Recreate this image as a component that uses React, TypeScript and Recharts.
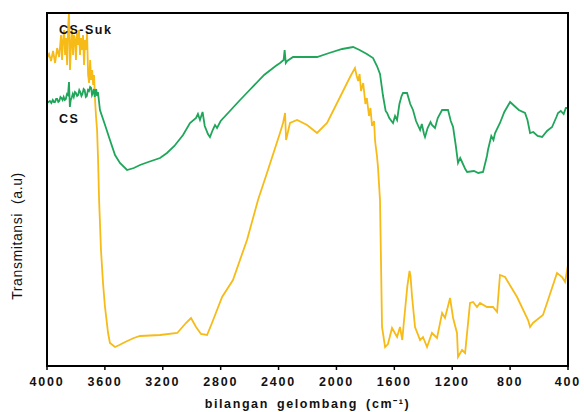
import { LineChart, Line, XAxis, YAxis } from 'recharts';

// FTIR spectra, wavenumbers in cm-1, transmittance in arbitrary units
const csWavenumber = [
  4000, 3990, 3980, 3970, 3960, 3952, 3945, 3937, 3930, 3922, 3915, 3907, 3900, 3892, 3885, 3877,
  3870, 3862, 3855, 3848, 3842, 3836, 3830, 3822, 3815, 3807, 3800, 3792, 3785, 3777, 3770, 3762,
  3755, 3747, 3740, 3732, 3725, 3717, 3710, 3702, 3695, 3689, 3683, 3676, 3670, 3665, 3660, 3654,
  3648, 3634, 3599, 3565, 3530, 3496, 3447, 3400, 3357, 3300, 3219, 3171, 3120, 3060, 3012, 2970,
  2957, 2943, 2925, 2910, 2888, 2874, 2855, 2839, 2825, 2800, 2666, 2600, 2500, 2420, 2390, 2365,
  2358, 2350, 2340, 2300, 2200, 2134, 2050, 1960, 1885, 1840, 1790, 1747, 1720, 1699, 1678, 1660,
  1650, 1635, 1620, 1609, 1595, 1581, 1565, 1550, 1540, 1512, 1490, 1471, 1450, 1422, 1410, 1395,
  1388, 1370, 1350, 1340, 1319, 1300, 1270, 1229, 1210, 1194, 1175, 1160, 1145, 1132, 1110, 1097,
  1050, 1020, 987, 960, 953, 930, 915, 904, 870, 840, 800, 770, 740, 697, 680, 662,
  640, 610, 579, 545, 510, 480, 469, 450, 430, 415, 400,
];
const csValue = [
  263, 264, 265, 263, 266, 264, 264, 267, 267, 264, 265, 269, 268, 266, 269, 266,
  267, 272, 271, 284, 259, 266, 268, 272, 269, 274, 273, 270, 271, 276, 274, 270,
  272, 277, 276, 269, 270, 276, 275, 279, 278, 271, 273, 277, 269, 275, 277, 270,
  274, 256, 241, 226, 211, 203, 196, 198, 201, 204, 208, 213, 220, 231, 243, 248,
  252, 246, 254, 240, 232, 229, 236, 241, 238, 245, 266, 276, 291, 300, 303, 306,
  316, 303, 305, 309, 309, 309, 313, 317, 319, 316, 312, 308, 300, 292, 270, 255,
  253, 248, 245, 243, 250, 246, 262, 270, 273, 273, 262, 256, 245, 236, 242, 232,
  229, 238, 244, 241, 238, 248, 256, 256, 245, 239, 220, 203, 208, 204, 197, 194,
  195, 193, 194, 210, 216, 230, 226, 233, 243, 254, 264, 260, 256, 253, 246, 233,
  234, 230, 229, 235, 239, 249, 253, 255, 252, 258, 258,
];

const sukWavenumber = [
  4000, 3986, 3972, 3958, 3944, 3930, 3916, 3903, 3896, 3889, 3882, 3875, 3868, 3861, 3855, 3848,
  3841, 3834, 3827, 3820, 3813, 3806, 3800, 3793, 3786, 3779, 3772, 3765, 3758, 3751, 3744, 3737,
  3730, 3723, 3716, 3709, 3702, 3695, 3688, 3681, 3675, 3668, 3661, 3654, 3647, 3640, 3627, 3613,
  3600, 3578, 3565, 3530, 3500, 3460, 3400, 3357, 3219, 3100, 3040, 3005, 2970, 2936, 2894, 2860,
  2790, 2715, 2618, 2542, 2480, 2390, 2369, 2355, 2348, 2321, 2272, 2203, 2134, 2065, 1975, 1906,
  1872, 1860, 1850, 1840, 1830, 1815, 1800, 1790, 1775, 1765, 1754, 1740, 1733, 1720, 1713, 1699,
  1685, 1664, 1644, 1616, 1581, 1561, 1545, 1536, 1510, 1495, 1488, 1478, 1457, 1422, 1402, 1374,
  1340, 1305, 1270, 1250, 1215, 1194, 1167, 1160, 1132, 1111, 1077, 1056, 1029, 1008, 960, 918,
  890, 870, 835, 752, 676, 662, 642, 573, 538, 476, 441, 420, 400,
];
const sukValue = [
  308, 312, 305, 315, 303, 318, 309, 331, 306, 326, 336, 311, 328, 301, 338, 353,
  296, 321, 336, 311, 331, 326, 306, 333, 321, 336, 311, 328, 316, 331, 301, 326,
  316, 333, 291, 283, 306, 286, 296, 281, 291, 266, 249, 236, 206, 166, 116, 83,
  60, 33, 23, 19, 21, 24, 28, 30, 31, 33, 43, 48, 39, 32, 31, 43,
  69, 86, 126, 166, 193, 233, 243, 253, 226, 243, 246, 241, 233, 243, 269, 289,
  298, 290, 285, 292, 275, 283, 262, 268, 250, 258, 240, 245, 225, 210, 199, 166,
  39, 19, 22, 38, 29, 39, 26, 41, 80, 95, 90, 70, 39, 26, 29, 19,
  33, 28, 53, 48, 68, 48, 33, 9, 16, 13, 63, 64, 59, 63, 59, 59,
  54, 91, 89, 69, 46, 39, 43, 51, 66, 93, 89, 84, 101,
];

const xTicks = [4000, 3600, 3200, 2800, 2400, 2000, 1600, 1200, 800, 400];

const csData = csWavenumber.map((wn, i) => ({ wn, v: csValue[i] }));
const sukData = sukWavenumber.map((wn, i) => ({ wn, v: sukValue[i] }));

const GREEN = '#20a65a';
const YELLOW = '#f7bb17';
const font = '"Liberation Sans", Arial, sans-serif';

export default function App() {
  return (
    <div style={{ position: 'absolute', left: 0, top: 0, width: 584, height: 412, background: '#fff', fontFamily: font }}>
      <LineChart width={584} height={412} data={csData} margin={{ top: 13, right: 16, left: 47, bottom: 0 }}>
        <XAxis
          dataKey="wn"
          type="number"
          domain={[400, 4000]}
          reversed
          ticks={xTicks}
          allowDataOverflow
          height={46}
          axisLine={{ stroke: '#000', strokeWidth: 2 }}
          tickLine={{ stroke: '#000', strokeWidth: 1.5 }}
          tickSize={4}
          tickMargin={7}
          tick={{ fill: '#111', fontSize: 12.5, fontWeight: 700, fontFamily: font, letterSpacing: 1.8 }}
          label={{
            value: 'bilangan  gelombang  (cm⁻¹)',
            position: 'insideBottom',
            offset: 4,
            style: { fill: '#111', fontSize: 12.5, fontWeight: 700, fontFamily: font, letterSpacing: 1.6, wordSpacing: 3, whiteSpace: 'pre' },
          }}
        />
        <YAxis hide domain={[0, 353]} allowDataOverflow />
        <Line data={sukData} dataKey="v" type="linear" stroke={YELLOW} strokeWidth={1.8} dot={false} isAnimationActive={false} />
        <Line data={csData} dataKey="v" type="linear" stroke={GREEN} strokeWidth={1.8} dot={false} isAnimationActive={false} />
      </LineChart>

      {/* plot frame */}
      <div style={{ position: 'absolute', left: 46, top: 12, width: 523, height: 355, boxSizing: 'border-box', borderTop: '2px solid #000', borderLeft: '2px solid #000', borderRight: '2px solid #000', pointerEvents: 'none' }} />

      <div style={{ position: 'absolute', left: 59, top: 23, fontSize: 12.5, fontWeight: 700, letterSpacing: 1.5, color: '#111' }}>CS-Suk</div>
      <div style={{ position: 'absolute', left: 59, top: 112, fontSize: 12.5, fontWeight: 700, letterSpacing: 1.5, color: '#111' }}>CS</div>

      <div style={{ position: 'absolute', left: 17, top: 236, transform: 'translate(-50%, -50%) rotate(-90deg)', fontSize: 14, letterSpacing: 0.6, whiteSpace: 'pre', color: '#111' }}>
        Transmitansi  (a.u)
      </div>
    </div>
  );
}
